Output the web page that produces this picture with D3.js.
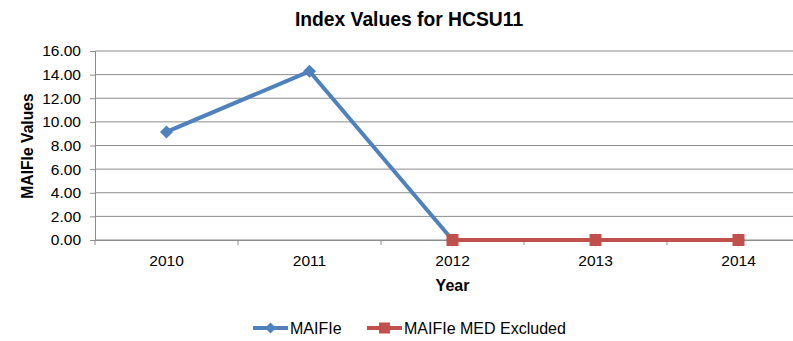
<!DOCTYPE html>
<html>
<head>
<meta charset="utf-8">
<script src="https://cdn.jsdelivr.net/npm/d3@7"></script>
<style>
  html, body { margin: 0; padding: 0; background: #fff; }
  svg { display: block; font-family: "Liberation Sans", Arial, sans-serif; }
</style>
</head>
<body>
<svg id="chart" width="793" height="341"></svg>
<script>
// Chart data
const years = ["2010", "2011", "2012", "2013", "2014"];
const maifie = [9.15, 14.28, 0, 0, 0];
const maifieMedExcluded = [null, null, 0, 0, 0];
const yTicks = [0, 2, 4, 6, 8, 10, 12, 14, 16];
const seriesNames = ["MAIFIe", "MAIFIe MED Excluded"];

const svg = d3.select("#chart");
const plot = { left: 95, right: 810, top: 51, bottom: 240 };
const FONT = "Liberation Sans, Arial, sans-serif";

const x = d3.scaleBand().domain(years).range([plot.left, plot.right]);
const y = d3.scaleLinear().domain([0, 16]).range([plot.bottom, plot.top]);

// Horizontal gridlines
svg.append("g")
  .selectAll("line")
  .data(yTicks)
  .join("line")
  .attr("x1", plot.left).attr("x2", plot.right)
  .attr("y1", d => y(d)).attr("y2", d => y(d))
  .attr("stroke", "#8c8c8c").attr("stroke-width", 1);

// Y axis
const yAxis = svg.append("g")
  .attr("transform", `translate(${plot.left},0)`)
  .call(d3.axisLeft(y).tickValues(yTicks).tickFormat(d3.format(".2f")).tickSize(5).tickPadding(9));
yAxis.select(".domain").attr("stroke", "#8c8c8c");
yAxis.selectAll(".tick line").attr("stroke", "#8c8c8c");
yAxis.selectAll("text").attr("font-size", 15.5).attr("fill", "#000")
  .attr("font-family", FONT);

// X axis
const xAxis = svg.append("g")
  .attr("transform", `translate(0,${plot.bottom})`)
  .call(d3.axisBottom(x).tickSize(0).tickPadding(15));
xAxis.select(".domain").attr("stroke", "#8c8c8c");
xAxis.selectAll("text").attr("font-size", 15.5).attr("fill", "#000")
  .attr("font-family", FONT);
// Tick marks between categories
svg.append("g")
  .selectAll("line")
  .data(years)
  .join("line")
  .attr("x1", d => x(d)).attr("x2", d => x(d))
  .attr("y1", plot.bottom).attr("y2", plot.bottom + 5)
  .attr("stroke", "#8c8c8c");

const cx = d => x(d) + x.bandwidth() / 2;

// MAIFIe series
const blue = "#4f81bd", red = "#c0504d";
const blueData = years.map((yr, i) => ({ yr, v: maifie[i] })).filter(d => d.v != null);
const redData = years.map((yr, i) => ({ yr, v: maifieMedExcluded[i] })).filter(d => d.v != null);
const line = d3.line().x(d => cx(d.yr)).y(d => y(d.v));

svg.append("path").datum(blueData)
  .attr("d", line).attr("fill", "none")
  .attr("stroke", blue).attr("stroke-width", 4).attr("stroke-linejoin", "round");
svg.append("g").selectAll("path")
  .data(blueData)
  .join("path")
  .attr("transform", d => `translate(${cx(d.yr)},${y(d.v)})`)
  .attr("d", "M0,-6.5L6.5,0L0,6.5L-6.5,0Z")
  .attr("fill", blue);

// MAIFIe MED Excluded series
svg.append("path").datum(redData)
  .attr("d", line).attr("fill", "none")
  .attr("stroke", red).attr("stroke-width", 4);
svg.append("g").selectAll("rect")
  .data(redData)
  .join("rect")
  .attr("x", d => cx(d.yr) - 6).attr("y", d => y(d.v) - 6)
  .attr("width", 12).attr("height", 12)
  .attr("fill", red);

// Titles
svg.append("text")
  .attr("x", 409).attr("y", 26)
  .attr("text-anchor", "middle")
  .attr("font-size", 19.3).attr("font-weight", "bold")
  .text("Index Values for HCSU11");
svg.append("text")
  .attr("transform", "translate(33,146) rotate(-90)")
  .attr("text-anchor", "middle")
  .attr("font-size", 15.7).attr("font-weight", "bold")
  .text("MAIFIe Values");
svg.append("text")
  .attr("x", cx("2012")).attr("y", 291)
  .attr("text-anchor", "middle")
  .attr("font-size", 16).attr("font-weight", "bold")
  .text("Year");

// Legend
const legend = svg.append("g").attr("transform", "translate(0,328)");
const legendItems = [
  { name: seriesNames[0], color: blue, x0: 253, shape: "diamond" },
  { name: seriesNames[1], color: red, x0: 367, shape: "square" }
];
legendItems.forEach(it => {
  legend.append("line")
    .attr("x1", it.x0).attr("x2", it.x0 + 35)
    .attr("y1", 0).attr("y2", 0)
    .attr("stroke", it.color).attr("stroke-width", 4);
  if (it.shape === "diamond") {
    legend.append("path")
      .attr("transform", `translate(${it.x0 + 17.5},0)`)
      .attr("d", "M0,-5.5L5.5,0L0,5.5L-5.5,0Z").attr("fill", it.color);
  } else {
    legend.append("rect")
      .attr("x", it.x0 + 12).attr("y", -5.5).attr("width", 11).attr("height", 11)
      .attr("fill", it.color);
  }
  legend.append("text")
    .attr("x", it.x0 + 37).attr("y", 6)
    .attr("font-size", 16)
    .text(it.name);
});
</script>
</body>
</html>
